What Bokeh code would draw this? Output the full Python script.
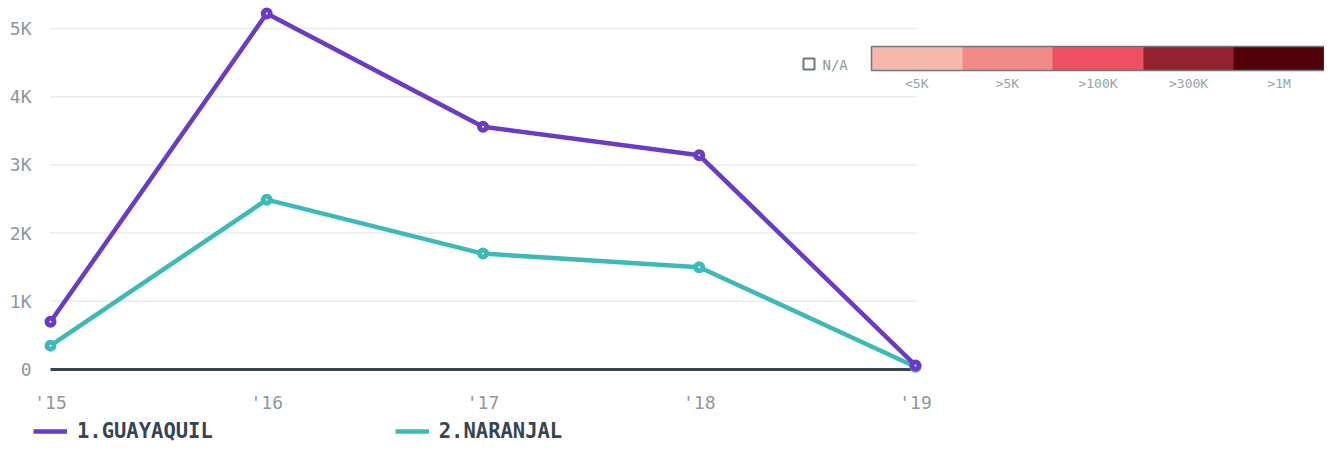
from bokeh.plotting import figure
from bokeh.layouts import column
from bokeh.models import (FixedTicker, Range1d, Legend, LegendItem, ColorBar,
                          LinearColorMapper)
from bokeh.embed import file_html
from bokeh.resources import INLINE
from bokeh.core.properties import value

# ---- data ----
years = [2015, 2016, 2017, 2018, 2019]
x_labels = ["'15", "'16", "'17", "'18", "'19"]
guayaquil = [700, 5220, 3560, 3140, 60]
naranjal = [350, 2490, 1700, 1500, 40]
y_ticks = [0, 1000, 2000, 3000, 4000, 5000]
y_labels = ["0", "1K", "2K", "3K", "4K", "5K"]
series_names = ["1.GUAYAQUIL", "2.NARANJAL"]
scale_labels = ["<5K", ">5K", ">100K", ">300K", ">1M"]
scale_colors = ["#f5b7ae", "#f08a87", "#ef5061", "#93212e", "#4f000b"]
na_label = "N/A"

# ---- styles ----
FONT = "DejaVu Sans Mono"
PURPLE = "#6a3bc4"
TEAL = "#3dbab8"
DARK = "#36454f"
GRID = "#e9ecee"
TICK = "#8d979c"

W = 1324
H_MAIN, H_LEG = 416, 27
BL, BB = 33, 36
FW, FH = W - BL, H_MAIN - BB
PX_PER_YEAR = 216.25
PX_PER_UNIT = 68.2 / 1000.0
x0 = years[0] - (50 - BL) / PX_PER_YEAR
x1 = x0 + FW / PX_PER_YEAR
y1 = 369 / PX_PER_UNIT
y0 = y1 - FH / PX_PER_UNIT

p = figure(width=W, height=H_MAIN, x_range=Range1d(x0, x1), y_range=Range1d(y0, y1),
           output_backend="svg", toolbar_location=None,
           min_border_left=BL, min_border_right=0, min_border_top=0,
           min_border_bottom=BB)
p.outline_line_color = None
p.grid.visible = False

# axes
for ax in (p.xaxis[0], p.yaxis[0]):
    ax.axis_line_color = None
    ax.major_tick_line_color = None
    ax.minor_tick_line_color = None
    ax.major_tick_out = 0
    ax.major_tick_in = 0
    ax.minor_tick_out = 0
    ax.minor_tick_in = 0
    ax.major_label_text_font = FONT
    ax.major_label_text_font_size = "18px"
    ax.major_label_text_color = TICK

p.yaxis.ticker = FixedTicker(ticks=y_ticks)
p.yaxis.major_label_overrides = dict(zip(y_ticks, y_labels))
p.yaxis.major_label_standoff = 2
p.xaxis.ticker = FixedTicker(ticks=years)
p.xaxis.major_label_overrides = dict(zip(years, x_labels))
p.xaxis.major_label_standoff = 11

# gridlines across the data span
p.segment(x0=[years[0]] * (len(y_ticks) - 1), x1=[years[-1]] * (len(y_ticks) - 1),
          y0=y_ticks[1:], y1=y_ticks[1:], line_color=GRID, line_width=1.5)
p.segment(x0=[years[0]], x1=[years[-1]], y0=[y_ticks[0]], y1=[y_ticks[0]],
          line_color=DARK, line_width=3)

p.line(years, naranjal, line_color=TEAL, line_width=4.5)
p.scatter(years, naranjal, size=7, line_width=5, line_color=TEAL, fill_color="white")
p.line(years, guayaquil, line_color=PURPLE, line_width=4.5)
p.scatter(years, guayaquil, size=7, line_width=5, line_color=PURPLE, fill_color="white")

# colour scale
mapper = LinearColorMapper(palette=scale_colors, low=0, high=len(scale_colors))
mids = [i + 0.5 for i in range(len(scale_colors))]
cb = ColorBar(color_mapper=mapper, orientation="horizontal", width=453, height=24,
              ticker=FixedTicker(ticks=mids),
              major_label_overrides=dict(zip(mids, scale_labels)),
              major_tick_line_color=None, minor_tick_line_color=None,
              bar_line_color="#6f787d", bar_line_width=1.5,
              padding=0, margin=0, label_standoff=5,
              major_label_text_font=FONT, major_label_text_font_size="13px",
              major_label_text_color="#9aa2a6",
              background_fill_alpha=0, border_line_color=None,
              location=(838, 287))
p.add_layout(cb)

# N/A marker (placed in screen pixels, converted to data space)
def px2x(px):
    return x0 + (px - BL) / PX_PER_YEAR

def px2y(py):
    return y1 - py / PX_PER_UNIT

p.scatter([px2x(808.5)], [px2y(63.5)], marker="square", size=11, line_width=2,
          line_color="#6f787d", fill_color="white")
p.text([px2x(822)], [px2y(64)], text=[na_label], text_font=value(FONT),
       text_font_size="14px", text_color="#8d979c", text_baseline="middle",
       text_align="left")

# ---- legend strip ----
lg = figure(width=W, height=H_LEG, x_range=Range1d(0, 1), y_range=Range1d(0, 1),
            output_backend="svg", toolbar_location=None, min_border=0)
lg.outline_line_color = None
lg.axis.visible = False
lg.grid.visible = False
lr_g = lg.line([-10, -9], [-10, -9], line_color=PURPLE, line_width=4.5)
lr_n = lg.line([-10, -9], [-10, -9], line_color=TEAL, line_width=4.5)
legend = Legend(items=[LegendItem(label=series_names[0], renderers=[lr_g]),
                       LegendItem(label=series_names[1], renderers=[lr_n])],
                orientation="horizontal", location=(0, 0),
                glyph_width=34, glyph_height=20, label_standoff=10, spacing=182,
                padding=0, margin=0, border_line_color=None,
                background_fill_alpha=0,
                label_text_font=FONT, label_text_font_size="20.5px",
                label_text_font_style="bold", label_text_color=DARK)
lg.add_layout(legend)

layout = column(p, lg, spacing=0)
open("out.html", "w").write(file_html(layout, INLINE))
